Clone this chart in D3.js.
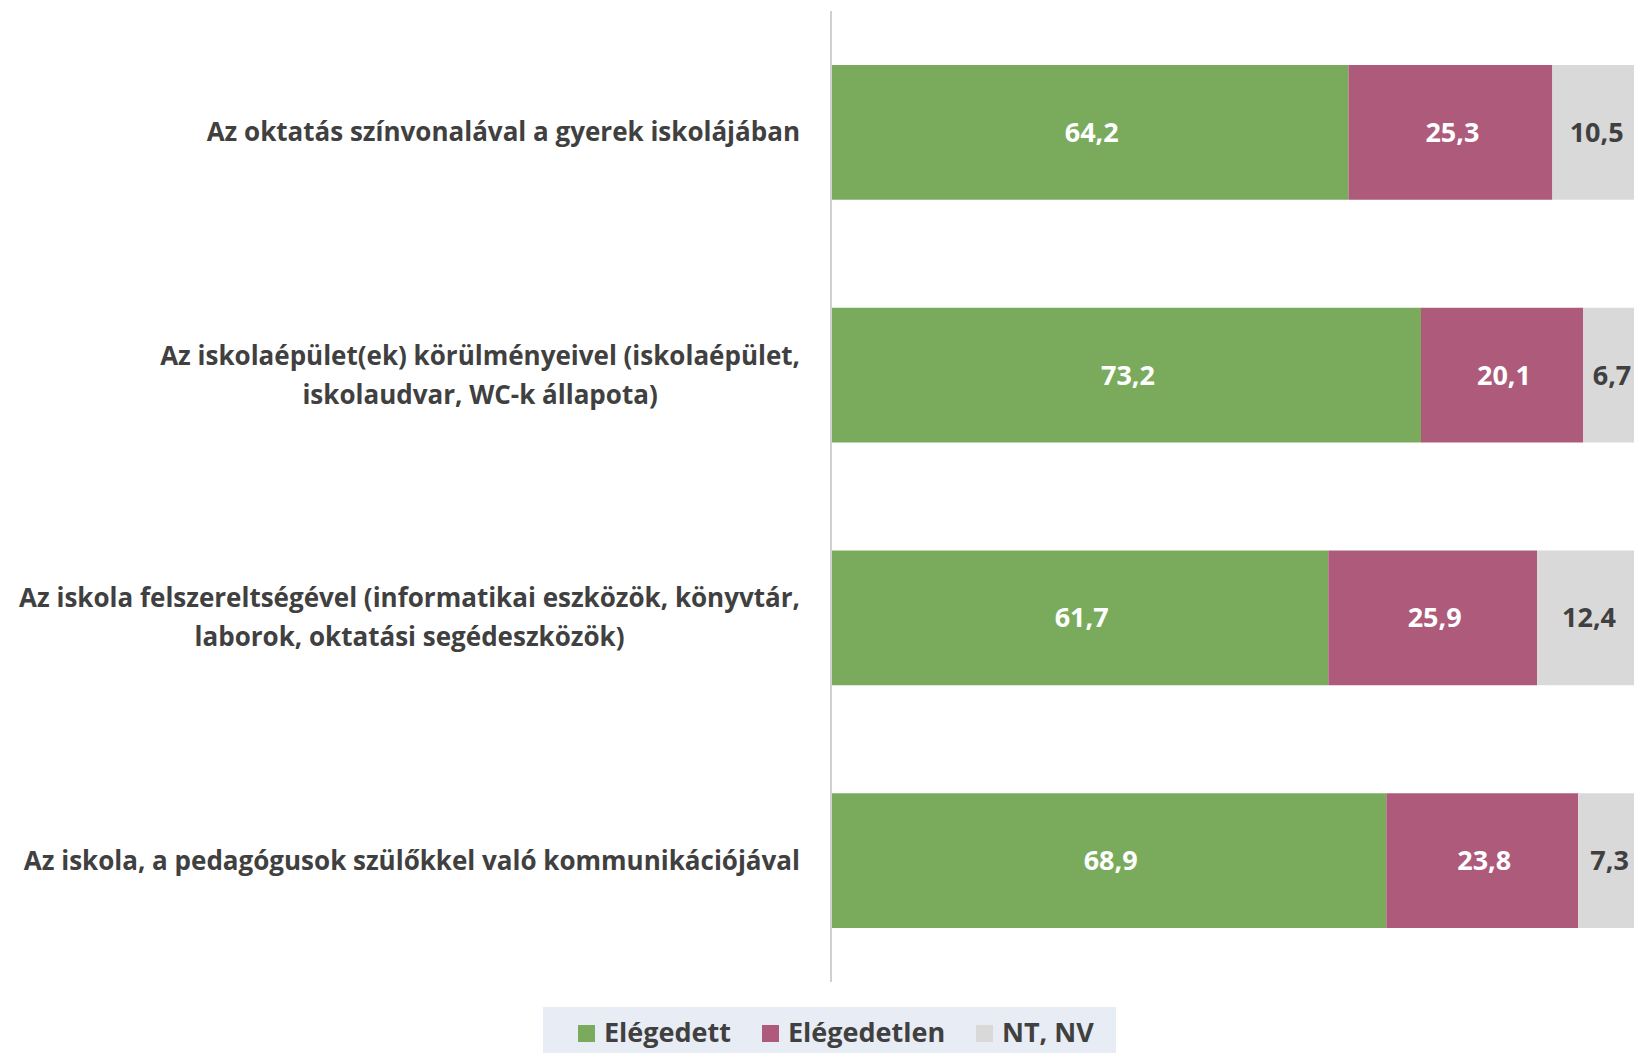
<!DOCTYPE html>
<html>
<head>
<meta charset="utf-8">
<script src="https://cdn.jsdelivr.net/npm/d3@7"></script>
<style>
  body { margin: 0; background: #fff; }
  text { font-family: "Open Sans", "Noto Sans", sans-serif; font-weight: 700; }
</style>
</head>
<body>
<div id="chart"></div>
<script>
const W = 1634, H = 1053;

// data
const categories = [
  ["Az oktatás színvonalával a gyerek iskolájában"],
  ["Az iskolaépület(ek) körülményeivel (iskolaépület,", "iskolaudvar, WC-k állapota)"],
  ["Az iskola felszereltségével (informatikai eszközök, könyvtár,", "laborok, oktatási segédeszközök)"],
  ["Az iskola, a pedagógusok szülőkkel való kommunikációjával"]
];
const seriesNames = ["Elégedett", "Elégedetlen", "NT, NV"];
const satisfied = [64.2, 73.2, 61.7, 68.9];
const dissatisfied = [25.3, 20.1, 25.9, 23.8];
const noAnswer = [10.5, 6.7, 12.4, 7.3];
const colors = ["#7aab5d", "#ad5a7b", "#d9d9d9"];
const labelColors = ["#ffffff", "#ffffff", "#404040"];

const x0 = 831, y0 = 11, y1 = 982;

const svg = d3.select("#chart").append("svg")
  .attr("width", W)
  .attr("height", H);

const xScale = d3.scaleLinear().domain([0, 100]).range([x0, x0 + 806]);
const yScale = d3.scaleBand()
  .domain(d3.range(categories.length))
  .range([y0, y1])
  .paddingInner(0.445)
  .paddingOuter(0.2225);

const rows = categories.map((c, i) => ({
  i, lines: c, vals: [satisfied[i], dissatisfied[i], noAnswer[i]]
}));

// bars
rows.forEach(r => {
  let acc = 0;
  r.vals.forEach((v, k) => {
    const xa = xScale(acc), xb = xScale(acc + v);
    svg.append("rect")
      .attr("x", xa)
      .attr("y", yScale(r.i))
      .attr("width", xb - xa)
      .attr("height", yScale.bandwidth())
      .attr("fill", colors[k]);
    svg.append("text")
      .attr("x", (xa + xb) / 2 + 2)
      .attr("y", yScale(r.i) + yScale.bandwidth() / 2)
      .attr("dy", "0.35em")
      .attr("text-anchor", "middle")
      .attr("fill", labelColors[k])
      .style("font-size", "27px")
      .text(d3.format(".1f")(v).replace(".", ","));
    acc += v;
  });
});

// axis line
svg.append("line")
  .attr("x1", x0).attr("x2", x0)
  .attr("y1", y0).attr("y2", y1)
  .attr("stroke", "#d0d0d0")
  .attr("stroke-width", 2);

// category labels: block right-aligned, lines centred within it
const labelRight = 800;
rows.forEach(r => {
  const cy = yScale(r.i) + yScale.bandwidth() / 2;
  const lh = 39;
  const g = svg.append("g");
  const texts = r.lines.map((ln, j) => g.append("text")
    .attr("y", cy + (j - (r.lines.length - 1) / 2) * lh)
    .attr("dy", "0.35em")
    .attr("text-anchor", "middle")
    .attr("fill", "#404040")
    .style("font-size", "26px")
    .text(ln));
  const widest = d3.max(texts, t => t.node().getComputedTextLength());
  texts.forEach(t => t.attr("x", labelRight - widest / 2));
});

// legend
const lg = svg.append("g");
lg.append("rect")
  .attr("x", 543).attr("y", 1007)
  .attr("width", 573).attr("height", 46)
  .attr("fill", "#e8ecf4");
const legendX = [578, 762, 976];
seriesNames.forEach((s, k) => {
  lg.append("rect")
    .attr("x", legendX[k]).attr("y", 1025)
    .attr("width", 17).attr("height", 17)
    .attr("fill", colors[k]);
  lg.append("text")
    .attr("x", legendX[k] + 26)
    .attr("y", 1033)
    .attr("dy", "0.35em")
    .attr("fill", "#404040")
    .style("font-size", "27px")
    .text(s);
});
</script>
</body>
</html>
